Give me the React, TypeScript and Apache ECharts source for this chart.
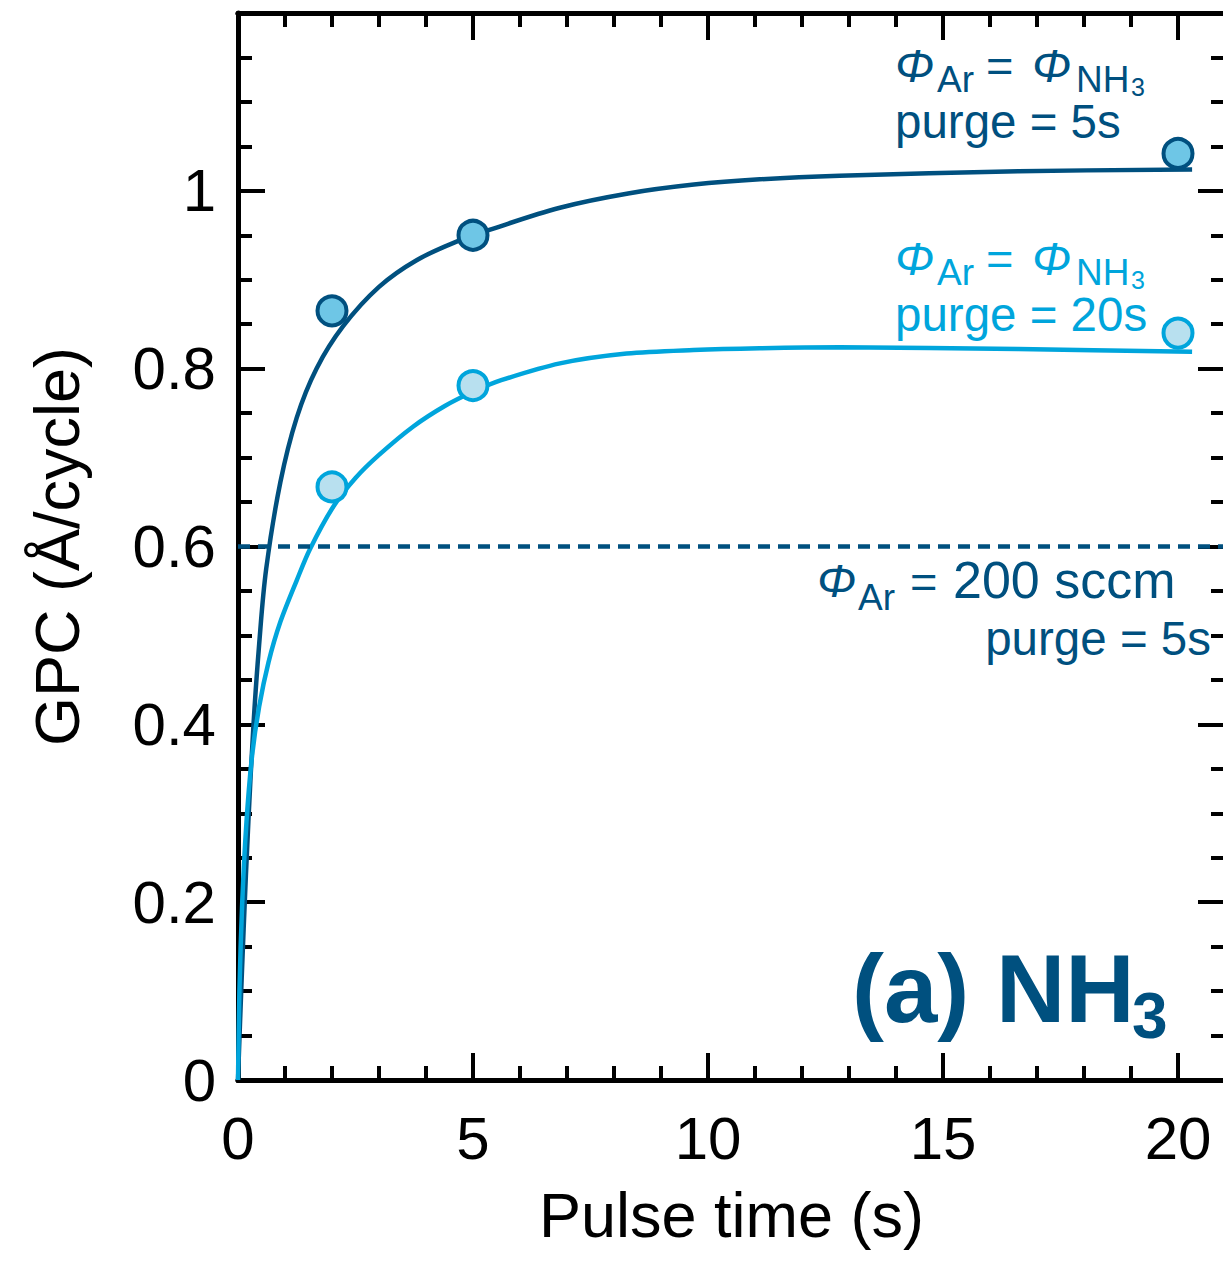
import React, { useEffect, useRef } from "react";
import * as echarts from "echarts";

// ---- data ----
const pulseTimes = [2, 5, 20];
const gpcPurge5 = [0.865, 0.95, 1.042];
const gpcPurge20 = [0.667, 0.781, 0.84];
const baselineGPC = 0.6; // Φ_Ar = 200 sccm, purge = 5s

const fitPurge5: [number, number][] = [
  [0, 0], [0.04, 0.06], [0.12, 0.17], [0.22, 0.29], [0.33, 0.4], [0.45, 0.49],
  [0.6, 0.575], [0.9, 0.672], [1.25, 0.745], [1.67, 0.8], [2.24, 0.848],
  [3.0, 0.892], [3.8, 0.922], [4.7, 0.944], [5.4, 0.957], [6.85, 0.981],
  [8.3, 0.997], [9.7, 1.007], [11.1, 1.013], [12.8, 1.017], [16.6, 1.022],
  [20.3, 1.024],
];
const fitPurge20: [number, number][] = [
  [0, 0], [0.03, 0.1], [0.09, 0.2], [0.18, 0.29], [0.3, 0.365], [0.45, 0.42],
  [0.65, 0.47], [0.9, 0.515], [1.25, 0.562], [1.53, 0.597], [2.03, 0.645],
  [2.5, 0.677], [3.0, 0.703], [3.73, 0.735], [4.4, 0.758], [5.0, 0.774],
  [5.6, 0.787], [6.85, 0.806], [8.27, 0.817], [9.69, 0.821], [11.1, 0.823],
  [12.8, 0.824], [16.6, 0.822], [20.3, 0.819],
];

const xTitle = "Pulse time (s)";
const yTitle = "GPC (Å/cycle)";

const DARK = "#00507F";
const LIGHT = "#00A5DC";
const DARK_FILL = "#6EC6E6";
const LIGHT_FILL = "#B8E0EF";
const FONT = "'Liberation Sans', Arial, Helvetica, sans-serif";

function txt(
  text: string,
  x: number,
  baseline: number,
  size: number,
  color: string,
  opts: { italic?: boolean; bold?: boolean; align?: string } = {}
) {
  return {
    type: "text",
    x,
    y: baseline - 0.35 * size,
    z: 100,
    silent: true,
    style: {
      text,
      fill: color,
      fontSize: size,
      lineHeight: Math.round(size * 0.9),
      fontFamily: FONT,
      fontStyle: opts.italic ? "italic" : "normal",
      fontWeight: opts.bold ? "bold" : "normal",
      align: opts.align || "left",
      verticalAlign: "middle",
    },
  };
}

function annotation(dy: number, color: string, purge: string) {
  return [
    txt("Φ", 895, 82 + dy, 47, color, { italic: true }),
    txt("Ar", 937, 92 + dy, 37, color),
    txt("=", 986, 82 + dy, 47, color),
    txt("Φ", 1032, 82 + dy, 47, color, { italic: true }),
    txt("NH", 1076, 92 + dy, 37, color),
    txt("3", 1131, 96 + dy, 25, color),
    txt(purge, 895, 138 + dy, 47.5, color),
  ];
}

export default function App() {
  const ref = useRef<HTMLDivElement>(null);

  useEffect(() => {
    if (!ref.current) return;
    const chart = echarts.init(ref.current, undefined, { renderer: "svg" });

    const axisLine = { show: true, onZero: false, lineStyle: { color: "#000", width: 5 } };
    const tickStyle = { color: "#000", width: 4 };
    const baseX = {
      type: "value",
      min: 0,
      max: 21,
      axisLine,
      splitLine: { show: false },
    };
    const baseY = {
      type: "value",
      min: 0,
      max: 1.2,
      interval: 0.2,
      axisLine,
      splitLine: { show: false },
      axisTick: { inside: true, length: 27, lineStyle: tickStyle },
      minorTick: { show: true, splitNumber: 4, length: 14, lineStyle: tickStyle },
    };

    chart.setOption({
      animation: false,
      backgroundColor: "#fff",
      grid: { left: 238, top: 13, width: 987, height: 1067 },
      xAxis: [
        {
          ...baseX,
          position: "bottom",
          interval: 5,
          axisTick: { inside: true, length: 27, lineStyle: tickStyle },
          axisLabel: {
            show: true,
            fontSize: 60,
            fontFamily: FONT,
            color: "#000",
            margin: 28,
            formatter: (v: number) => (v % 5 === 0 ? String(v) : ""),
          },
          name: xTitle,
          nameLocation: "middle",
          nameGap: 103,
          nameTextStyle: { fontSize: 63, fontFamily: FONT, color: "#000" },
        },
        {
          ...baseX,
          position: "bottom",
          interval: 1,
          axisTick: { inside: true, length: 14, lineStyle: tickStyle },
          axisLabel: { show: false },
        },
        {
          ...baseX,
          position: "top",
          interval: 5,
          axisTick: { inside: true, length: 27, lineStyle: tickStyle },
          axisLabel: { show: false },
        },
        {
          ...baseX,
          position: "top",
          interval: 1,
          axisTick: { inside: true, length: 14, lineStyle: tickStyle },
          axisLabel: { show: false },
        },
      ],
      yAxis: [
        {
          ...baseY,
          position: "left",
          axisLabel: {
            show: true,
            fontSize: 60,
            fontFamily: FONT,
            color: "#000",
            margin: 22,
            formatter: (v: number) => (v > 1.1 ? "" : String(Math.round(v * 10) / 10)),
          },
          name: yTitle,
          nameLocation: "middle",
          nameGap: 150,
          nameTextStyle: { fontSize: 63, fontFamily: FONT, color: "#000" },
        },
        {
          ...baseY,
          position: "right",
          axisLabel: { show: false },
        },
      ],
      series: [
        {
          type: "line",
          name: "fit purge 5s",
          data: fitPurge5,
          smooth: 0.35,
          showSymbol: false,
          symbol: "none",
          lineStyle: { color: DARK, width: 4.5 },
          z: 2,
          markLine: {
            silent: true,
            symbol: ["none", "none"],
            label: { show: false },
            lineStyle: { color: DARK, width: 4.5, type: [12, 8] },
            data: [{ yAxis: baselineGPC }],
          },
        },
        {
          type: "line",
          name: "fit purge 20s",
          data: fitPurge20,
          smooth: 0.3,
          showSymbol: false,
          symbol: "none",
          lineStyle: { color: LIGHT, width: 4.5 },
          z: 2,
        },
        {
          type: "scatter",
          name: "purge 5s",
          data: pulseTimes.map((t, i) => [t, gpcPurge5[i]]),
          symbol: "circle",
          symbolSize: 29,
          itemStyle: { color: DARK_FILL, borderColor: DARK, borderWidth: 4, opacity: 1 },
          z: 5,
        },
        {
          type: "scatter",
          name: "purge 20s",
          data: pulseTimes.map((t, i) => [t, gpcPurge20[i]]),
          symbol: "circle",
          symbolSize: 29,
          itemStyle: { color: LIGHT_FILL, borderColor: LIGHT, borderWidth: 4, opacity: 1 },
          z: 5,
        },
      ],
      graphic: [
        ...annotation(0, DARK, "purge = 5s"),
        ...annotation(193, LIGHT, "purge = 20s"),
        txt("Φ", 817, 597, 47, DARK, { italic: true }),
        txt("Ar", 858, 610, 37, DARK),
        txt("=", 910, 598, 47, DARK),
        txt("200 sccm", 953, 598, 52, DARK),
        txt("purge = 5s", 1211, 655, 47.5, DARK, { align: "right" }),
        txt("(a) NH", 852, 1022, 96, DARK, { bold: true }),
        txt("3", 1132, 1038, 64, DARK, { bold: true }),
      ],
    });

    return () => chart.dispose();
  }, []);

  return (
    <div
      style={{
        position: "fixed",
        left: 0,
        top: 0,
        width: 1223,
        height: 1261,
        overflow: "hidden",
        background: "#fff",
      }}
    >
      <div ref={ref} style={{ width: 1260, height: 1261 }} />
    </div>
  );
}
